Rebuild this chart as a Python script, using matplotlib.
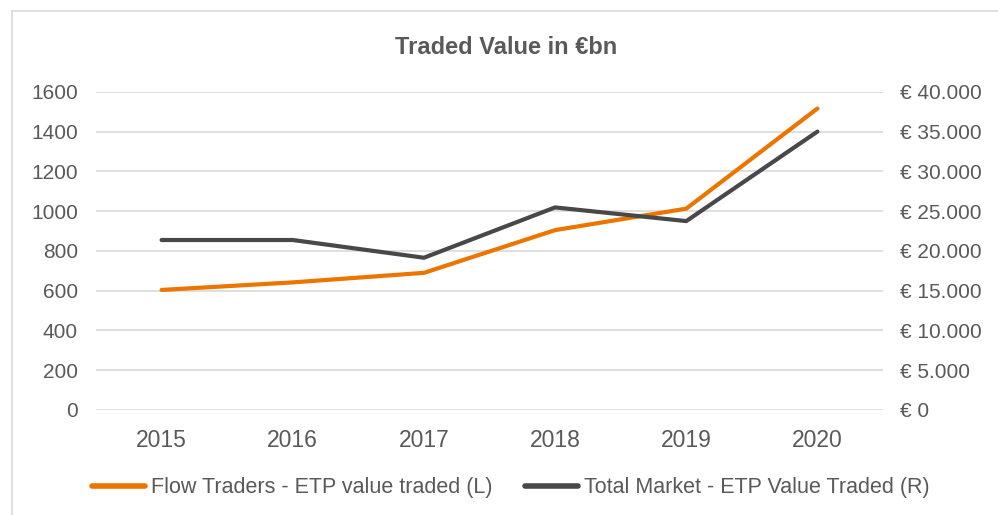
import matplotlib.pyplot as plt
from matplotlib.lines import Line2D
from matplotlib.ticker import FuncFormatter, MultipleLocator

plt.rcParams['font.family'] = ['Liberation Sans', 'DejaVu Sans']

years = ['2015', '2016', '2017', '2018', '2019', '2020']
flow_traders = [604, 642, 690, 905, 1013, 1517]          # left axis
total_market = [21380, 21380, 19150, 25480, 23760, 35020]  # right axis, € bn

ORANGE = '#EC7500'
DARK = '#484848'
TEXT = '#595959'
GRID = '#D9D9D9'


def euro_fmt(v, pos):
    return '€ ' + f'{v:,.0f}'.replace(',', '.')


fig = plt.figure(figsize=(9.98, 5.15), dpi=100)
ax = fig.add_axes([0.0962, 0.2039, 0.7886, 0.6175])
ax2 = ax.twinx()

x = range(len(years))
ax.plot(x, flow_traders, color=ORANGE, lw=3.0, solid_capstyle='round', zorder=3)
ax2.plot(x, total_market, color=DARK, lw=3.0, solid_capstyle='round', zorder=3)

ax.set_xlim(-0.5, len(years) - 0.5)
ax.set_ylim(0, 1600)
ax2.set_ylim(0, 40000)
ax.yaxis.set_major_locator(MultipleLocator(200))
ax2.yaxis.set_major_locator(MultipleLocator(5000))
ax2.yaxis.set_major_formatter(FuncFormatter(euro_fmt))

ax.set_xticks(list(x))
ax.set_xticklabels(years)
ax.grid(axis='y', color=GRID, lw=1.2)
ax.set_axisbelow(True)

for a in (ax, ax2):
    for s in a.spines.values():
        s.set_visible(False)
ax.tick_params(axis='y', length=0, pad=13, labelsize=15, labelcolor=TEXT)
ax.tick_params(axis='x', length=0, pad=14, labelsize=16.5, labelcolor=TEXT)
ax2.tick_params(axis='y', length=0, pad=12, labelsize=15, labelcolor=TEXT)

fig.text(0.5075, 1 - 47 / 515, 'Traded Value in €bn', ha='center', va='center',
         fontsize=17, fontweight='bold', color=TEXT)

handles = [Line2D([], [], color=ORANGE, lw=4, solid_capstyle='round'),
           Line2D([], [], color=DARK, lw=4, solid_capstyle='round')]
labels = ['Flow Traders - ETP value traded (L)', 'Total Market - ETP Value Traded (R)']
leg = fig.legend(handles, labels, loc='center', bbox_to_anchor=(0.5115, 1 - 488 / 515),
                 ncol=2, frameon=False, fontsize=15.5, handlelength=2.5,
                 handletextpad=0.25, columnspacing=1.5)
for t in leg.get_texts():
    t.set_color(TEXT)

# chart frame (top and left edges visible)
fig.add_artist(Line2D([12 / 998, 1.0], [1 - 11 / 515] * 2, transform=fig.transFigure,
                      color=GRID, lw=1.2))
fig.add_artist(Line2D([12 / 998] * 2, [0, 1 - 11 / 515], transform=fig.transFigure,
                      color=GRID, lw=1.2))

fig.savefig('out.png', dpi=100)
